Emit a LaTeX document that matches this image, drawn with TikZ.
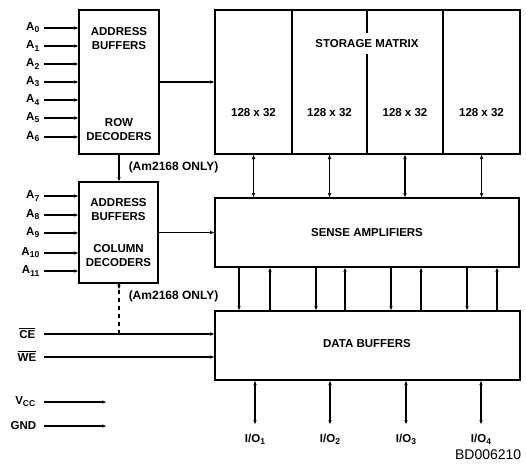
\documentclass[tikz,border=0pt]{standalone}
\usepackage{fontspec}
\setmainfont{Liberation Sans}
\usetikzlibrary{arrows.meta}
\newcommand\sbs[1]{\raisebox{-0.35ex}{\fontsize{8.5}{9}\selectfont #1}}
\newcommand\ovl[1]{\leavevmode\vbox{\hrule height 0.9pt\kern1.3pt\hbox{#1}}}
\begin{document}
\begin{tikzpicture}[x=1pt,y=-1pt, line width=1.5pt,
  >={Latex[length=5pt,width=3.5pt]},
  box/.style={draw, line width=1.9pt, inner sep=0pt, outer sep=0pt},
  lbl/.style={font=\fontsize{11.5}{14}\selectfont\bfseries, align=center, inner sep=0pt},
  pinlbl/.style={font=\fontsize{11.5}{12}\selectfont\bfseries, anchor=east, inner sep=0pt},
  note/.style={font=\fontsize{12}{14}\selectfont\bfseries, anchor=west, inner sep=0pt},
  iolbl/.style={font=\fontsize{11.5}{12}\selectfont\bfseries, anchor=north, inner sep=0pt}]
\useasboundingbox (0,0) rectangle (526,464);

% boxes
\node[box, minimum width=80pt, minimum height=144pt] (row) at (119,82) {};
\node[box, minimum width=305pt, minimum height=144pt] (stor) at (367.5,82) {};
\node[box, minimum width=79pt, minimum height=101pt] (col) at (118.5,232.5) {};
\node[box, minimum width=304pt, minimum height=69pt] (sense) at (367,232.5) {};
\node[box, minimum width=305pt, minimum height=69pt] (data) at (367.5,345.5) {};

% storage dividers
\draw[line width=1.9pt] (stor.north -| 292,0) -- (stor.south -| 292,0);
\draw[line width=1.9pt] (stor.north -| 367,0) -- (367,33);
\draw[line width=1.9pt] (367,54) -- (stor.south -| 367,0);
\draw[line width=1.9pt] (stor.north -| 443,0) -- (stor.south -| 443,0);

% box texts
\node[lbl] (rt1) at (119,39) {ADDRESS\\BUFFERS};
\node[lbl] (rt2) at (119,130) {ROW\\DECODERS};
\node[lbl] (ct1) at (118.5,210) {ADDRESS\\BUFFERS};
\node[lbl] (ct2) at (118.5,256) {COLUMN\\DECODERS};
\node[lbl] (stt) at (367,44) {STORAGE MATRIX};
\node[lbl] (m1) at (253.5,113) {128 x 32};
\node[lbl] (m2) at (329.5,113) {128 x 32};
\node[lbl] (m3) at (405,113) {128 x 32};
\node[lbl] (m4) at (481.5,113) {128 x 32};
\node[lbl] (st) at (367,232.5) {SENSE AMPLIFIERS};
\node[lbl] (dt) at (367,344) {DATA BUFFERS};

% address inputs
\foreach \i/\y in {0/28,1/46,2/64,3/82,4/100,5/118,6/137}{
  \node[pinlbl] (a\i) at (40,\y) {A\sbs{\i}};
  \coordinate (s\i) at (44,\y);
  \draw[->] (s\i) -- (s\i -| row.west);
}
\foreach \i/\y in {7/196,8/215,9/233,10/253,11/271}{
  \node[pinlbl] (a\i) at (40,\y) {A\sbs{\i}};
  \coordinate (s\i) at (44,\y);
  \draw[->] (s\i) -- (s\i -| col.west);
}

% control inputs
\node[pinlbl] (ce) at (36,333) {\ovl{CE}};
\node[pinlbl] (we) at (37,356) {\ovl{WE}};
\coordinate (ces) at (44,334);
\coordinate (wes) at (44,357);
\draw[->] (ces) -- (ces -| data.west);
\draw[->] (wes) -- (wes -| data.west);

\node[pinlbl] (vcc) at (36,402) {V\sbs{CC}};
\node[pinlbl] (gnd) at (37,426) {GND};
\coordinate (vs) at (44,402);
\coordinate (ve) at (107,402);
\coordinate (gs) at (44,426);
\coordinate (ge) at (107,426);
\draw[->] (vs) -- (ve);
\draw[->] (gs) -- (ge);

% row -> column, column -> CE
\draw[->] (row.south) -- (row.south |- col.north);
\node[note] (n1) at (128,167) {(Am2168 ONLY)};
\coordinate (dj) at (119,290);
\draw[->] (col.south -| dj) -- (dj);
\draw[dashed, dash pattern=on 4pt off 4pt] (dj) -- (dj |- ces);
\node[note] (n2) at (128,296) {(Am2168 ONLY)};

% decoders -> arrays
\draw[->] (row.east) -- (row.east -| stor.west);
\draw[->] (col.east) -- (col.east -| sense.west);

% storage <-> sense
\foreach \x in {253.5,329.5,405,481.5}{
  \draw[<->] (stor.south -| \x,0) -- (sense.north -| \x,0);
}
% sense <-> data
\foreach \x in {239,316,391,467}{
  \draw[->] (sense.south -| \x,0) -- (data.north -| \x,0);
}
\foreach \x in {270,345,421,497}{
  \draw[->] (data.north -| \x,0) -- (sense.south -| \x,0);
}

% I/O
\foreach \i/\x in {1/255,2/330,3/406,4/481}{
  \coordinate (io\i) at (\x,425);
  \draw[<->] (data.south -| io\i) -- (io\i);
  \node[iolbl] (iol\i) at (\x,433) {I/O\sbs{\i}};
}

\node[font=\fontsize{14}{16}\selectfont, anchor=base east, inner sep=0pt] (bd) at (522,459) {BD006210};
\end{tikzpicture}
\end{document}
